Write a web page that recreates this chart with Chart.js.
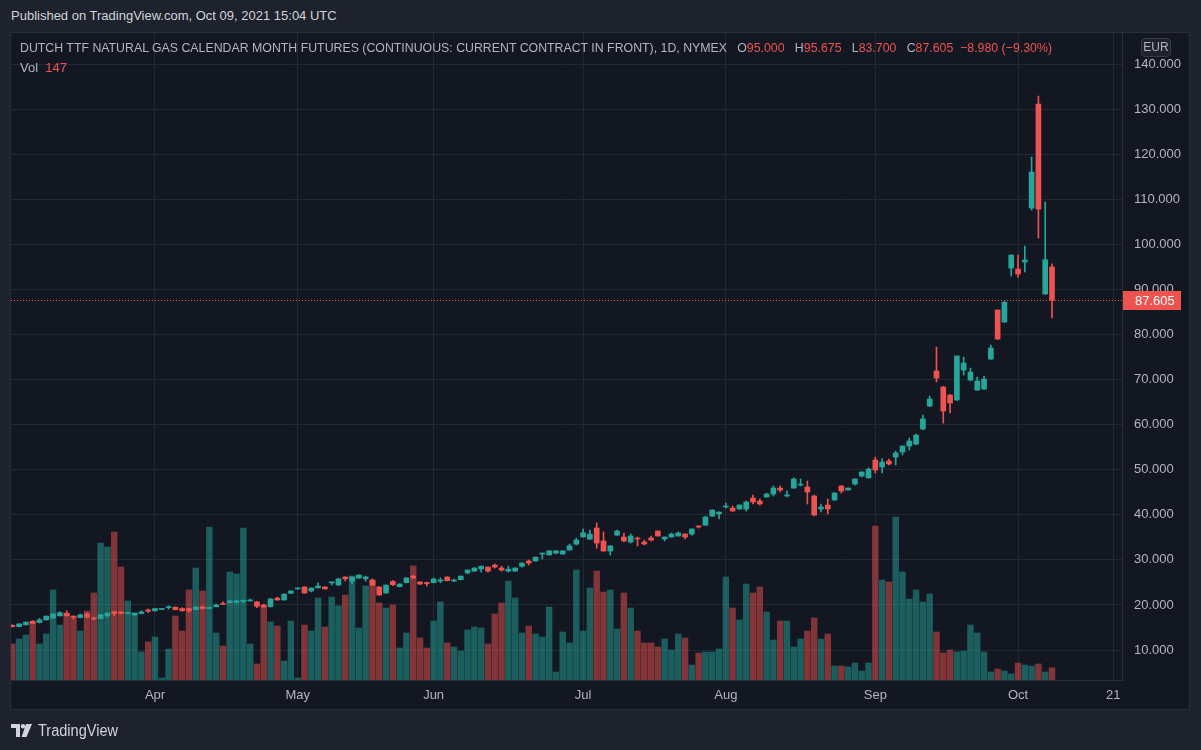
<!DOCTYPE html>
<html><head><meta charset="utf-8">
<script src="https://cdn.jsdelivr.net/npm/chart.js@4.4.0/dist/chart.umd.min.js"></script>
<style>
html,body{margin:0;padding:0;background:#1e222d;width:1201px;height:750px;overflow:hidden;font-family:"Liberation Sans",Arial,sans-serif;}
#pub{position:absolute;left:11px;top:8px;font-size:13px;color:#d1d4dc;white-space:nowrap;}
#panel{position:absolute;left:10px;top:32px;width:1180px;height:678px;background:#131722;border:1px solid #2a2e39;box-sizing:border-box;}
#c{position:absolute;left:0;top:0;}
#hdr{position:absolute;left:20px;top:40px;font-size:13px;color:#b2b5be;white-space:nowrap;transform-origin:0 0;}
#vol{position:absolute;left:20px;top:60px;font-size:13px;color:#b2b5be;white-space:nowrap;}
.r{color:#ef5350;}
#eur{position:absolute;left:1141px;top:38px;width:30px;height:19px;border:1px solid #363a45;border-radius:4px;box-sizing:border-box;color:#b2b5be;font-size:12px;text-align:center;line-height:17px;background:#1e222d;}
#logo{position:absolute;left:11px;top:724px;}
#tv{position:absolute;left:38px;top:722px;font-size:16px;color:#d1d4dc;white-space:nowrap;transform-origin:0 0;}
</style></head>
<body>
<div id="pub">Published on TradingView.com, Oct 09, 2021 15:04 UTC</div>
<div id="panel"></div>
<canvas id="c" width="1201" height="750"></canvas>
<div id="hdr"></div>
<div id="vol"></div>
<div id="eur">EUR</div>
<svg id="logo" width="22" height="14" viewBox="0 0 22 14"><path d="M0 0H9V13H5V4H0Z" fill="#d1d4dc"/><circle cx="12" cy="2.2" r="2.2" fill="#d1d4dc"/><path d="M15 0H21L15.5 13H10.5Z" fill="#d1d4dc"/></svg>
<div id="tv">TradingView</div>
<script>
const title = 'DUTCH TTF NATURAL GAS CALENDAR MONTH FUTURES (CONTINUOUS: CURRENT CONTRACT IN FRONT), 1D, NYMEX';
const currency = 'EUR';
const dates = [
'2021-03-03','2021-03-04','2021-03-05','2021-03-08','2021-03-09','2021-03-10','2021-03-11','2021-03-12','2021-03-15','2021-03-16','2021-03-17','2021-03-18','2021-03-19','2021-03-22','2021-03-23','2021-03-24','2021-03-25','2021-03-26','2021-03-29','2021-03-30','2021-03-31',
'2021-04-01','2021-04-05','2021-04-06','2021-04-07','2021-04-08','2021-04-09','2021-04-12','2021-04-13','2021-04-14','2021-04-15','2021-04-16','2021-04-19','2021-04-20','2021-04-21','2021-04-22','2021-04-23','2021-04-26','2021-04-27','2021-04-28','2021-04-29','2021-04-30',
'2021-05-03','2021-05-04','2021-05-05','2021-05-06','2021-05-07','2021-05-10','2021-05-11','2021-05-12','2021-05-13','2021-05-14','2021-05-17','2021-05-18','2021-05-19','2021-05-20','2021-05-21','2021-05-24','2021-05-25','2021-05-26','2021-05-27','2021-05-28',
'2021-06-01','2021-06-02','2021-06-03','2021-06-04','2021-06-07','2021-06-08','2021-06-09','2021-06-10','2021-06-11','2021-06-14','2021-06-15','2021-06-16','2021-06-17','2021-06-18','2021-06-21','2021-06-22','2021-06-23','2021-06-24','2021-06-25','2021-06-28','2021-06-29','2021-06-30',
'2021-07-01','2021-07-02','2021-07-06','2021-07-07','2021-07-08','2021-07-09','2021-07-12','2021-07-13','2021-07-14','2021-07-15','2021-07-16','2021-07-19','2021-07-20','2021-07-21','2021-07-22','2021-07-23','2021-07-26','2021-07-27','2021-07-28','2021-07-29','2021-07-30',
'2021-08-02','2021-08-03','2021-08-04','2021-08-05','2021-08-06','2021-08-09','2021-08-10','2021-08-11','2021-08-12','2021-08-13','2021-08-16','2021-08-17','2021-08-18','2021-08-19','2021-08-20','2021-08-23','2021-08-24','2021-08-25','2021-08-26','2021-08-27','2021-08-30','2021-08-31',
'2021-09-01','2021-09-02','2021-09-03','2021-09-07','2021-09-08','2021-09-09','2021-09-10','2021-09-13','2021-09-14','2021-09-15','2021-09-16','2021-09-17','2021-09-20','2021-09-21','2021-09-22','2021-09-23','2021-09-24','2021-09-27','2021-09-28','2021-09-29','2021-09-30',
'2021-10-01','2021-10-04','2021-10-05','2021-10-06','2021-10-07','2021-10-08'];
const futureDates = ['2021-10-11','2021-10-12','2021-10-13','2021-10-14','2021-10-15','2021-10-18','2021-10-19','2021-10-20','2021-10-21','2021-10-22'];

const opens = [15.5,15.2,15.6,16.4,16.1,16.7,17.1,17.6,18.1,17.5,
17.2,18.0,17.1,17.0,17.6,18.5,18.45,18.1,17.8,18.1,
18.9,18.7,19.0,19.4,19.5,19.2,19.2,19.0,19.6,19.2,
19.6,20.3,20.5,20.6,20.8,20.9,20.7,20.0,19.6,21.5,
21.1,22.6,23.55,24.0,23.1,23.8,24.0,24.9,24.4,26.2,
25.3,25.95,25.8,25.5,24.0,22.65,25.2,24.05,24.95,26.4,
25.1,24.95,24.95,25.3,26.2,25.3,25.6,27.1,27.5,28.0,
28.4,28.85,28.2,27.5,27.5,28.6,29.75,29.75,31.3,31.1,
31.5,31.3,32.2,33.5,35.1,34.6,37.07,34.2,31.97,35.5,
35.07,33.96,34.85,33.96,34.85,36.4,34.63,35.07,35.3,35.74,
35.74,37.5,37.7,39.7,40.2,41.73,41.5,41.28,41.28,43.7,
43.06,43.95,44.6,45.94,44.17,45.94,46.6,46.17,44.17,41.3,
42.17,43.28,46.4,45.5,46.83,48.6,48.2,52.16,50.6,51.93,
52.82,53.93,55.26,55.7,59.03,64.13,71.9,68.35,66.58,65.47,
72.12,69.9,67.68,67.91,74.56,85.43,82.77,94.75,94.52,96.08,
108.06,131.13,88.98,95.0];
const highs = [15.6,15.8,16.2,16.5,17.0,17.6,18.0,18.5,18.7,17.6,
18.0,18.2,17.3,17.9,18.2,18.6,18.5,18.25,18.2,18.7,
19.1,19.2,19.1,19.8,19.6,19.4,19.25,19.6,19.7,19.5,
20.2,20.7,20.95,21.1,21.1,21.3,20.75,20.2,21.5,21.75,
22.45,23.15,23.8,24.05,23.8,24.9,24.05,25.1,25.85,26.25,
26.25,26.7,26.4,25.8,24.05,24.45,25.4,24.7,26.05,26.6,
25.15,25.1,26.0,26.0,26.25,25.75,26.45,27.8,28.25,28.65,
28.45,29.1,28.6,28.6,28.25,29.35,29.97,30.65,31.5,32.05,
32.05,32.05,33.5,34.85,36.85,36.6,38.2,36.2,33.15,36.6,
35.96,35.74,35.07,34.4,35.3,36.45,35.1,35.96,36.2,35.8,
36.9,37.55,39.7,41.1,40.65,42.6,41.95,42.2,43.06,44.4,
43.5,44.8,46.4,46.4,45.3,48.2,47.94,47.5,44.4,42.4,
43.5,44.9,46.45,46.0,48.0,49.55,50.4,52.8,52.4,52.38,
54.15,55.3,57.04,57.9,62.14,66.35,77.22,68.5,66.7,75.3,
75.0,72.56,70.57,70.79,77.67,85.5,87.3,97.7,97.63,99.63,
119.37,132.9,109.39,95.675];
const lows = [15.1,15.1,15.5,15.8,16.0,16.6,17.0,17.5,17.5,16.9,
17.1,17.1,16.7,16.9,17.3,17.6,18.0,18.05,17.6,18.0,
18.3,18.6,18.95,19.1,18.9,18.65,18.4,18.9,19.1,19.15,
19.55,20.05,20.45,20.4,20.5,20.85,19.4,19.5,19.55,21.05,
21.05,22.5,23.5,22.6,22.9,23.75,23.5,24.4,24.35,25.3,
24.65,25.9,25.3,24.35,22.15,22.6,24.3,24.0,24.9,25.8,
24.5,24.2,24.9,24.95,25.35,25.2,25.55,26.9,27.45,27.3,
27.3,28.2,27.5,27.3,27.45,28.4,28.85,29.7,30.2,31.05,
31.3,31.25,32.15,33.3,35.05,34.55,32.6,31.9,31.08,35.45,
33.96,33.74,33.08,33.3,34.2,35.25,34.2,35.0,35.25,34.63,
35.5,37.07,37.65,39.65,39.07,41.5,40.8,41.2,40.84,42.4,
42.17,43.9,44.17,45.06,43.95,45.9,46.4,42.4,39.73,40.62,
40.18,43.2,44.84,45.45,46.6,48.4,48.15,49.27,49.27,51.05,
51.05,53.27,54.38,55.5,58.9,64.0,69.46,60.36,62.58,65.4,
71.01,69.68,67.6,67.8,74.5,78.9,82.7,92.97,92.75,93.86,
107.61,101.4,88.9,83.7];
const closes = [15.2,15.8,16.2,15.9,16.7,17.5,18.0,18.3,17.6,17.3,
17.8,17.3,16.9,17.85,18.2,18.1,18.1,18.2,18.2,18.45,
18.6,19.2,19.05,19.5,18.95,18.7,18.7,19.55,19.2,19.45,
20.0,20.1,20.9,20.9,21.0,21.1,19.7,19.55,21.3,21.1,
22.4,23.1,23.75,22.65,23.75,24.2,23.55,25.1,25.8,25.8,
26.2,26.65,26.2,24.4,22.2,24.4,24.5,24.65,26.0,26.0,
24.65,24.7,25.75,25.5,25.4,25.5,26.4,27.75,28.2,28.6,
27.5,28.4,27.75,27.95,28.2,29.3,29.3,30.6,31.5,32.0,
32.0,32.0,33.1,34.4,36.0,35.7,33.74,31.97,33.1,36.4,
34.2,35.3,34.63,33.52,34.4,35.3,35.07,35.74,35.96,35.07,
36.85,37.3,39.5,41.06,40.6,41.95,40.84,42.17,42.84,42.84,
42.4,44.6,45.94,45.5,44.4,47.94,46.8,45.06,39.96,41.73,
41.3,44.84,45.28,45.94,47.94,49.5,50.16,49.94,51.7,51.27,
53.71,55.26,56.37,57.7,61.25,65.69,70.35,63.03,64.8,75.23,
73.67,71.68,69.68,70.12,77.0,79.0,87.2,97.63,93.42,96.52,
116.04,107.83,96.585,87.605];
const volumes = [432,492,540,696,432,552,1080,660,804,756,
588,828,1044,1644,1596,1776,1356,948,804,336,
456,516,24,372,768,588,1080,1344,1068,1836,
564,408,1296,1272,1824,432,192,888,696,648,
228,708,24,660,588,984,636,996,888,1020,
1248,624,1128,1200,924,864,900,384,564,1368,
504,384,708,936,444,396,348,600,636,624,
432,792,924,1188,984,564,648,552,516,876,
96,576,444,1320,588,1104,1308,1056,1080,612,
1044,864,588,444,444,396,492,360,552,504,
180,324,336,336,372,1236,864,720,1152,1044,
1116,816,480,708,708,396,492,588,744,492,
552,168,168,156,204,108,204,1848,1200,1176,
1956,1296,972,1080,936,1032,576,324,360,336,
348,660,564,336,96,132,108,72,204,180,
168,192,96,147];
const priceTicks = [10,20,30,40,50,60,70,80,90,100,110,120,130,140];
const tickDates = ['2021-04-01','2021-05-03','2021-06-01','2021-07-01','2021-08-02','2021-09-01','2021-10-01','2021-10-21'];
const tickLabels = ['Apr','May','Jun','Jul','Aug','Sep','Oct','21'];

const UP = '#26a69a', DOWN = '#ef5350';
const UPV = 'rgba(38,166,154,0.5)', DOWNV = 'rgba(239,83,80,0.5)';
const allDates = dates.concat(futureDates);
const n = dates.length;
const isUp = opens.map((o,i)=>closes[i] >= o);
const candleCol = isUp.map(u=>u?UP:DOWN);
const volCol = isUp.map(u=>u?UPV:DOWNV);
const tickIdx = tickDates.map(d=>allDates.indexOf(d));

const last = n-1;
const lastClose = closes[last];
const chg = closes[last]-closes[last-1];
const pct = chg/closes[last-1]*100;
const fmt = v=>v.toFixed(3);
const sgn = v=>(v<0?'\u2212':'+')+Math.abs(v).toFixed(v===pct?2:3);
document.getElementById('hdr').innerHTML = title + '&nbsp;&nbsp; O<span class="r">'+fmt(opens[last])+'</span>&nbsp;&nbsp; H<span class="r">'+fmt(highs[last])+'</span>&nbsp;&nbsp; L<span class="r">'+fmt(lows[last])+'</span>&nbsp;&nbsp; C<span class="r">'+fmt(lastClose)+'</span>&nbsp;&nbsp;<span class="r">'+sgn(chg)+' ('+(pct<0?'\u2212':'+')+Math.abs(pct).toFixed(2)+'%)</span>';
document.getElementById('vol').innerHTML = 'Vol&nbsp;&nbsp;<span class="r">'+volumes[last]+'</span>';
document.getElementById('eur').textContent = currency;
function fitW(id, w){const el=document.getElementById(id);const r=el.getBoundingClientRect().width;el.style.transform='scaleX('+(w/r)+')';}
fitW('hdr', 1032);
fitW('tv', 80);

const lastPricePlugin = {
  id:'lastPrice',
  afterDraw(chart){
    const {ctx, chartArea, scales} = chart;
    const y = Math.round(scales.y.getPixelForValue(lastClose))+0.5;
    ctx.save();
    ctx.strokeStyle = DOWN; ctx.lineWidth = 1; ctx.setLineDash([1,2]);
    ctx.beginPath(); ctx.moveTo(chartArea.left, y); ctx.lineTo(chartArea.right, y); ctx.stroke();
    ctx.setLineDash([]);
    ctx.fillStyle = isUp[last]?UP:DOWN;
    ctx.fillRect(chartArea.right+1, y-9.5, 58, 19);
    ctx.fillStyle = '#ffffff'; ctx.font = '13px "Liberation Sans", Arial, sans-serif';
    ctx.textBaseline = 'middle'; ctx.textAlign = 'left';
    ctx.fillText(fmt(lastClose), chartArea.right+13, y+0.5);
    ctx.restore();
  }
};

const xs = dates.map((d,i)=>i);
new Chart(document.getElementById('c'), {
  type:'bar',
  data:{
    datasets:[
      {label:'body', data: xs.map(i=>({x:i, y:[opens[i], closes[i]]})), backgroundColor:candleCol, barThickness:5, minBarLength:1, grouped:false, yAxisID:'y'},
      {label:'wick', data: xs.map(i=>({x:i, y:[lows[i], highs[i]]})), backgroundColor:candleCol, barThickness:1, grouped:false, yAxisID:'y'},
      {label:'vol', data: xs.map(i=>({x:i, y:volumes[i]})), backgroundColor:volCol, barThickness:5.8, grouped:false, yAxisID:'yv'}
    ]
  },
  options:{
    responsive:false, animation:false, devicePixelRatio:1,
    layout:{padding:{left:11, top:33, right:12, bottom:41}},
    plugins:{legend:{display:false}, tooltip:{enabled:false}},
    scales:{
      x:{type:'linear', min:-0.19, max:163.3, offset:false,
        afterBuildTicks(s){ s.ticks = tickIdx.map(v=>({value:v})); },
        afterFit(s){ s.height = 29; },
        ticks:{callback:(v)=>tickLabels[tickIdx.indexOf(v)], color:'#b2b5be', font:{size:13, family:'"Liberation Sans", Arial, sans-serif'}, padding:8, maxRotation:0, autoSkip:false},
        grid:{color:'#242832', drawTicks:false, offset:false},
        border:{color:'#2a2e39'}
      },
      y:{type:'linear', position:'right', min:3.35, max:146.9,
        afterBuildTicks(s){ s.ticks = priceTicks.map(v=>({value:v})); },
        afterFit(s){ s.width = 67; },
        ticks:{callback:(v)=>v.toFixed(3), color:'#b2b5be', font:{size:13, family:'"Liberation Sans", Arial, sans-serif'}, padding:12},
        grid:{color:'#242832', drawTicks:false},
        border:{color:'#2a2e39'}
      },
      yv:{type:'linear', position:'left', display:false, min:0, max:7764}
    }
  },
  plugins:[lastPricePlugin]
});
</script>
</body></html>
